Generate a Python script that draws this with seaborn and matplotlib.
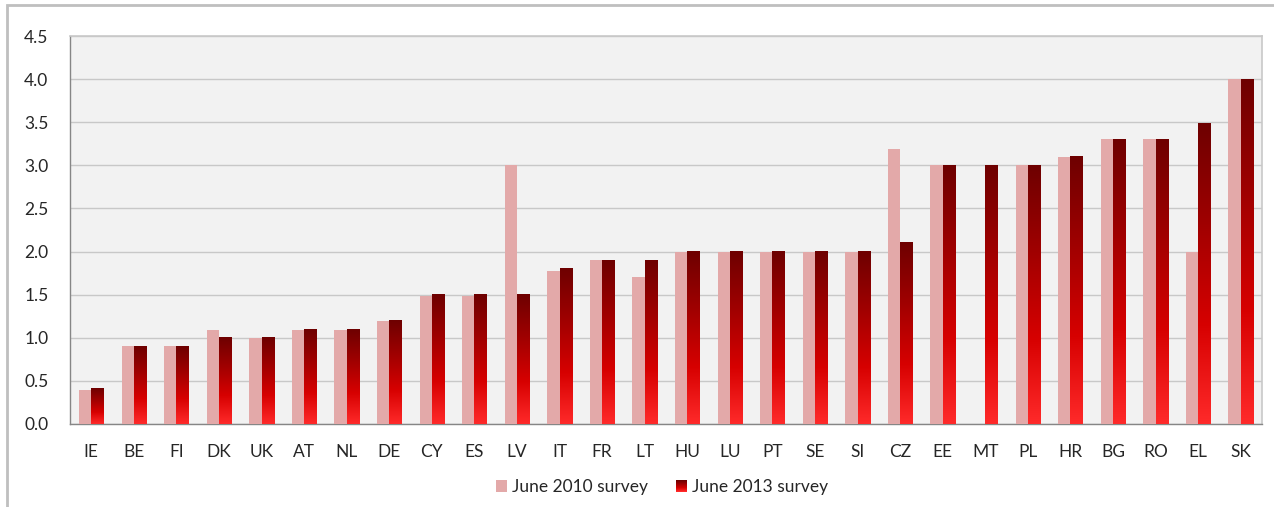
import numpy as np
import matplotlib
matplotlib.use("Agg")
import matplotlib.pyplot as plt
import pandas as pd
import seaborn as sns
from matplotlib.colors import LinearSegmentedColormap
from matplotlib.patches import Rectangle
from matplotlib.legend_handler import HandlerBase

countries = ["IE", "BE", "FI", "DK", "UK", "AT", "NL", "DE", "CY", "ES", "LV", "IT", "FR", "LT",
             "HU", "LU", "PT", "SE", "SI", "CZ", "EE", "MT", "PL", "HR", "BG", "RO", "EL", "SK"]
survey_2010 = [0.39, 0.9, 0.9, 1.09, 1.0, 1.09, 1.09, 1.2, 1.49, 1.49, 3.0, 1.78, 1.9, 1.7,
               2.0, 2.0, 2.0, 2.0, 2.0, 3.19, 3.0, np.nan, 3.0, 3.1, 3.3, 3.3, 2.0, 4.0]
survey_2013 = [0.41, 0.9, 0.9, 1.0, 1.0, 1.1, 1.1, 1.2, 1.5, 1.5, 1.5, 1.8, 1.9, 1.9,
               2.0, 2.0, 2.0, 2.0, 2.0, 2.1, 3.0, 3.0, 3.0, 3.1, 3.3, 3.3, 3.49, 4.0]
series_names = ["June 2010 survey", "June 2013 survey"]

df = pd.DataFrame({
    "country": countries * 2,
    "survey": [series_names[0]] * len(countries) + [series_names[1]] * len(countries),
    "value": survey_2010 + survey_2013,
})

sns.set_style("white")
plt.rcParams["font.family"] = ["Lato", "DejaVu Sans"]

pink = "#E3A9A9"
red_cmap = LinearSegmentedColormap.from_list("redgrad", ["#FF2A2A", "#D60000", "#A00000", "#6E0000"])
fs = 12.5

fig = plt.figure(figsize=(12.74, 5.07), dpi=100)
ax = fig.add_axes([70 / 1274, 1 - 424 / 507, (1262 - 70) / 1274, (424 - 36) / 507])
ax.set_facecolor("#F2F2F2")

sns.barplot(data=df, x="country", y="value", hue="survey", palette=[pink, "#C00000"],
            width=0.575, gap=0, saturation=1, legend=False, ax=ax, zorder=3, linewidth=0)

# gradient fill for the 2013 bars
grad = np.linspace(0, 1, 256).reshape(-1, 1)
for bar in ax.containers[1]:
    x, w, h = bar.get_x(), bar.get_width(), bar.get_height()
    if not np.isfinite(h) or h <= 0:
        continue
    ax.imshow(grad, extent=[x, x + w, 0, h], origin="lower", aspect="auto",
              cmap=red_cmap, zorder=3, interpolation="bilinear")
    bar.set_facecolor("none")
    bar.set_linewidth(0)

ax.set_xlim(-0.5, len(countries) - 0.5)
ax.set_ylim(0, 4.5)
ax.set_yticks(np.arange(0, 4.51, 0.5))
ax.set_yticklabels([f"{v:.1f}" for v in np.arange(0, 4.51, 0.5)])
ax.yaxis.grid(True, color="#C8C8C8", linewidth=1, zorder=0)
ax.set_axisbelow(True)
ax.set_xlabel("")
ax.set_ylabel("")

ax.set_xticks(range(len(countries)))
ax.set_xticklabels(countries)
ax.set_xticks(np.arange(-0.5, len(countries)), minor=True)
ax.tick_params(axis="x", which="major", length=0, pad=14.5, labelsize=fs, labelcolor="#262626")
ax.tick_params(axis="x", which="minor", length=7, width=1, color="#868686", direction="out")
ax.tick_params(axis="y", which="major", length=7, width=1, color="#868686", direction="out",
               labelsize=fs, labelcolor="#262626", pad=8.5)

for side in ["left", "bottom"]:
    ax.spines[side].set_color("#868686")
    ax.spines[side].set_linewidth(1)
for side in ["top", "right"]:
    ax.spines[side].set_color("#C8C8C8")
    ax.spines[side].set_linewidth(1.2)


class GradientHandler(HandlerBase):
    def create_artists(self, legend, orig_handle, xdescent, ydescent, width, height, fontsize, trans):
        n = 12
        out = []
        for k in range(n):
            r = Rectangle((-xdescent, -ydescent + k * height / n), width, height / n + 0.05,
                          facecolor=red_cmap(k / (n - 1)), edgecolor="none", transform=trans)
            out.append(r)
        return out


h1 = Rectangle((0, 0), 1, 1, facecolor=pink, edgecolor="none")
h2 = Rectangle((0, 0), 1, 1, facecolor="#C00000", edgecolor="none")
fig.legend([h1, h2], series_names, loc="center", bbox_to_anchor=(662 / 1274, 1 - 487 / 507),
           ncol=2, frameon=False, fontsize=fs, handlelength=0.63, handleheight=0.63,
           handletextpad=0.25, columnspacing=1.65, handler_map={h2: GradientHandler()},
           labelcolor="#262626")

# outer chart border
fig.patches.append(Rectangle((7 / 1274, -0.05), 1.1, 1 - 5 / 507 + 0.05, transform=fig.transFigure,
                             fill=False, edgecolor="#BFBFBF", linewidth=2, zorder=0))

fig.savefig("out.png", dpi=100, facecolor="white")
